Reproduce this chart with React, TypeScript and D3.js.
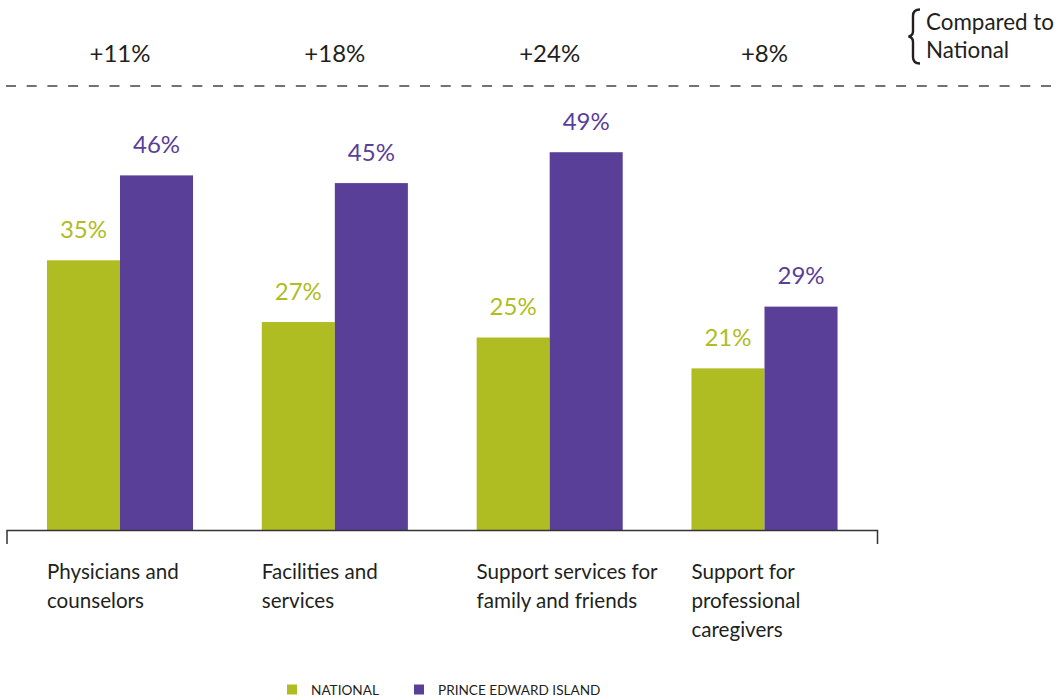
import React from "react";
import * as d3 from "d3";

const categories = [
  ["Physicians and", "counselors"],
  ["Facilities and", "services"],
  ["Support services for", "family and friends"],
  ["Support for", "professional", "caregivers"],
];
const seriesNames = ["NATIONAL", "PRINCE EDWARD ISLAND"];
const nationalValues = [35, 27, 25, 21];
const peiValues = [46, 45, 49, 29];
const colors = ["#AFBD22", "#5A3F99"];

const W = 1060;
const H = 698;
const FONT = "Lato, 'Open Sans', sans-serif";
const TEXT = "#231F20";

export default function App() {
  const keys = categories.map((_, i) => String(i));
  const x0 = d3
    .scaleBand<string>()
    .domain(keys)
    .range([7, 877.5])
    .paddingInner(0.32)
    .paddingOuter(0.186);
  const x1 = d3
    .scaleBand<string>()
    .domain(seriesNames)
    .range([0, x0.bandwidth()])
    .padding(0);
  const y = d3.scaleLinear().domain([0, 50]).range([530.5, 144.5]);
  const values = [nationalValues, peiValues];
  const baseY = y(0);

  return (
    <svg
      width={W}
      height={H}
      style={{ position: "absolute", left: 0, top: 0, background: "#fff" }}
      fontFamily={FONT}
    >
      {/* brace and note */}
      <path
        d="M920,9.5 C915,9.5 913,11.5 913,16 L913,31 C913,34.5 911.5,36 908.5,36.5 C911.5,37 913,38.5 913,42 L913,57 C913,61.5 915,63.5 920,63.5"
        fill="none"
        stroke={TEXT}
        strokeWidth={2.4}
      />
      <text x={926} y={30} fontSize={22.4} fill={TEXT}>
        Compared to
      </text>
      <text x={926} y={58} fontSize={22.4} fill={TEXT}>
        National
      </text>

      {/* difference labels */}
      {keys.map((k, i) => (
        <text
          key={"d" + k}
          x={(x0(k) as number) + x0.bandwidth() / 2}
          y={62}
          fontSize={24}
          fill={TEXT}
          textAnchor="middle"
        >
          {"+" + (peiValues[i] - nationalValues[i]) + "%"}
        </text>
      ))}

      {/* dashed separator */}
      <line
        x1={6}
        x2={W}
        y1={86}
        y2={86}
        stroke="#444"
        strokeWidth={1.5}
        strokeDasharray="10 10.7"
      />

      {/* bars */}
      {keys.map((k, i) => (
        <g key={"g" + k} transform={`translate(${x0(k)},0)`}>
          {seriesNames.map((s, si) => {
            const v = values[si][i];
            const bx = x1(s) as number;
            return (
              <g key={s}>
                <rect
                  x={bx}
                  y={y(v)}
                  width={x1.bandwidth()}
                  height={baseY - y(v)}
                  fill={colors[si]}
                />
                <text
                  x={bx + x1.bandwidth() / 2}
                  y={y(v) - 22.5}
                  fontSize={24}
                  fill={colors[si]}
                  textAnchor="middle"
                >
                  {v + "%"}
                </text>
              </g>
            );
          })}
        </g>
      ))}

      {/* axis */}
      <path
        d={`M7,544 L7,${baseY} L877.5,${baseY} L877.5,544`}
        fill="none"
        stroke="#333"
        strokeWidth={1.5}
      />

      {/* category labels */}
      {keys.map((k, i) => (
        <text key={"c" + k} x={x0(k) as number} y={579} fontSize={20.6} fill={TEXT}>
          {categories[i].map((line, li) => (
            <tspan key={li} x={x0(k) as number} dy={li === 0 ? 0 : 29}>
              {line}
            </tspan>
          ))}
        </text>
      ))}

      {/* legend */}
      {seriesNames.map((s, si) => {
        const lx = [287, 414][si];
        return (
          <g key={"l" + s}>
            <rect x={lx} y={684.5} width={10} height={10} fill={colors[si]} />
            <text x={lx + 24} y={695} fontSize={13.6} fill={TEXT}>
              {s}
            </text>
          </g>
        );
      })}
    </svg>
  );
}
